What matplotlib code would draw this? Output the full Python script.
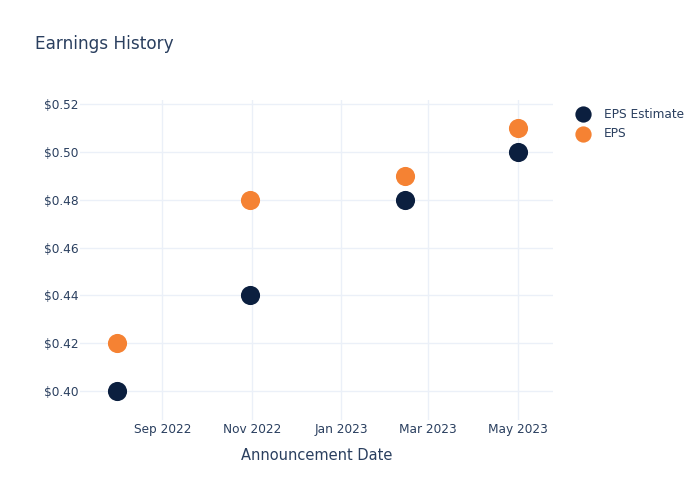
import matplotlib
matplotlib.use("Agg")
import matplotlib.pyplot as plt
import matplotlib.dates as mdates
import numpy as np
from datetime import datetime

# data
dates = ["2022-08-01", "2022-10-31", "2023-02-13", "2023-05-01"]
eps_estimate = [0.40, 0.44, 0.48, 0.50]
eps_actual = [0.42, 0.48, 0.49, 0.51]
series_names = ["EPS Estimate", "EPS"]

x = [datetime.strptime(d, "%Y-%m-%d") for d in dates]

text_col = "#2a3f5f"
grid_col = "#ebf0f8"
navy = "#0b1f3f"
orange = "#f58233"

plt.rcParams["font.family"] = ["DejaVu Sans"]

fig = plt.figure(figsize=(7, 5), dpi=100)
ax = fig.add_axes([80 / 700, 1 - 420 / 500, 473 / 700, 320 / 500])

ax.scatter(x, eps_estimate, s=190, color=navy, label=series_names[0], zorder=3, linewidths=0)
ax.scatter(x, eps_actual, s=190, color=orange, label=series_names[1], zorder=3, linewidths=0)

ax.set_xlim(datetime(2022, 7, 7), datetime(2023, 5, 25))
ax.set_ylim(0.3879, 0.5217)

ax.xaxis.set_major_locator(mdates.MonthLocator(bymonth=[1, 3, 5, 7, 9, 11]))
ax.xaxis.set_major_formatter(mdates.DateFormatter("%b %Y"))
ax.set_yticks(np.arange(0.40, 0.521, 0.02))
ax.yaxis.set_major_formatter(plt.FuncFormatter(lambda v, p: "$%.2f" % v))

ax.grid(True, color=grid_col, linewidth=1)
ax.set_axisbelow(True)
for s in ax.spines.values():
    s.set_visible(False)
ax.tick_params(length=0, colors=text_col, labelsize=8.7)
ax.tick_params(axis="x", pad=2)
ax.tick_params(axis="y", pad=1)

ax.set_xlabel("Announcement Date", color=text_col, fontsize=10.5, labelpad=9)

fig.text(35 / 700, 1 - 44 / 500, "Earnings History", color=text_col, fontsize=12.2, va="center")

leg = ax.legend(loc="upper left", bbox_to_anchor=(561 / 700, 1 - 98 / 500), bbox_transform=fig.transFigure,
                frameon=False, fontsize=8.7, labelcolor=text_col, handletextpad=0.75,
                labelspacing=0.5, markerscale=0.85, borderpad=0.3)

fig.savefig("out.png", dpi=100, facecolor="white")
